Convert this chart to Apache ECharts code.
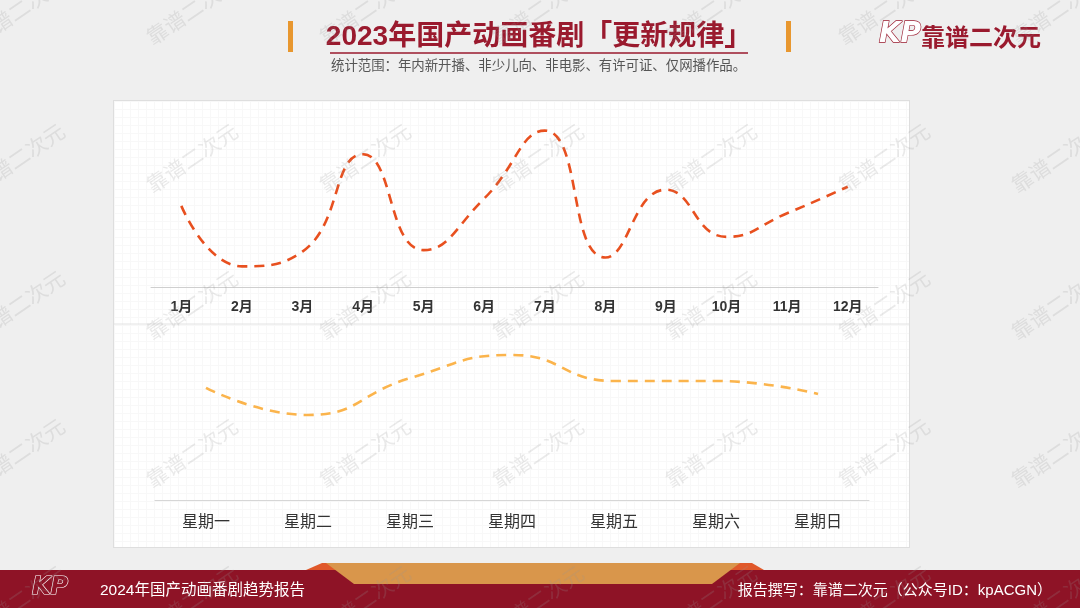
<!DOCTYPE html>
<html><head><meta charset="utf-8">
<script src="https://cdn.jsdelivr.net/npm/echarts@6/dist/echarts.min.js"></script>
<style>
html,body{margin:0;padding:0;background:#efefef;}
#wrap{position:relative;width:1080px;height:608px;overflow:hidden;background:#efefef;}
#panel{position:absolute;left:113px;top:100px;width:795px;height:446px;border:1px solid #dedede;background-color:#fff;
background-image:linear-gradient(#f8f8f8 1px,transparent 1px),linear-gradient(90deg,#f8f8f8 1px,transparent 1px);background-size:8px 8px;}
#chart{position:absolute;left:0;top:0;width:1080px;height:608px;}
</style></head>
<body><div id="wrap"><div id="panel"></div><div id="chart"></div></div>
<script>
const months = ['1月','2月','3月','4月','5月','6月','7月','8月','9月','10月','11月','12月'];
const monthValues = [27.5, 7, 12, 45, 12.5, 30, 53, 10, 33, 17, 25, 34];
const weekdays = ['星期一','星期二','星期三','星期四','星期五','星期六','星期日'];
const weekdayValues = [19.8, 15, 21.5, 25.6, 21, 21, 18.7];

const titleText = '2023年国产动画番剧「更新规律」';
const subtitleText = '统计范围：年内新开播、非少儿向、非电影、有许可证、仅网播作品。';
const brandText = '靠谱二次元';
const footerLeft = '2024年国产动画番剧趋势报告';
const footerRight = '报告撰写：靠谱二次元（公众号ID：kpACGN）';

const FONT = '"Liberation Sans","Noto Sans CJK SC",sans-serif';
const CJK = '"Noto Sans CJK SC","Noto Sans",sans-serif';
const RED = '#9a1a2e';

const chart = echarts.init(document.getElementById('chart'), null, {renderer:'canvas'});

const graphics = [];
// title bars
graphics.push({type:'rect', shape:{x:288,y:21,width:5,height:31}, style:{fill:'#e8972f'}});
graphics.push({type:'rect', shape:{x:786,y:21,width:5,height:31}, style:{fill:'#e8972f'}});
graphics.push({type:'text', x:539, y:37, style:{text:titleText, font:'bold 28px '+FONT, fill:RED, align:'center', verticalAlign:'middle'}});
graphics.push({type:'line', shape:{x1:330,y1:53,x2:748,y2:53}, style:{stroke:RED, lineWidth:1.6}});
graphics.push({type:'text', x:331, y:65, style:{text:subtitleText, font:'13.4px '+CJK, fill:'#555', align:'left', verticalAlign:'middle'}});
// top-right brand
graphics.push({type:'text', x:900, y:35, style:{text:'KP', font:'italic bold 28px "DejaVu Sans",sans-serif', fill:'#fff', stroke:RED, lineWidth:1.3, align:'center', verticalAlign:'middle'}});
graphics.push({type:'text', x:921, y:37, style:{text:brandText, font:'bold 24px '+CJK, fill:RED, align:'left', verticalAlign:'middle'}});
// divider in panel
graphics.push({type:'line', shape:{x1:114,y1:324,x2:909,y2:324}, style:{stroke:'#e2e2e2', lineWidth:1}});
// footer
graphics.push({type:'rect', shape:{x:0,y:570,width:1080,height:38}, style:{fill:'#8e1326'}});
graphics.push({type:'polygon', shape:{points:[[306,570],[322,563],[752,563],[764,570]]}, style:{fill:'#e0582a'}});
graphics.push({type:'polygon', shape:{points:[[326,563],[740,563],[712,584],[354,584]]}, style:{fill:'#d9964b'}});
graphics.push({type:'text', x:50, y:588, style:{text:'KP', font:'italic bold 24px "DejaVu Sans",sans-serif', fill:'#8e1326', stroke:'#fff', lineWidth:1.2, align:'center', verticalAlign:'middle'}});
graphics.push({type:'text', x:100, y:591, style:{text:footerLeft, font:'15.5px '+FONT, fill:'#fff', align:'left', verticalAlign:'middle'}});
graphics.push({type:'text', x:1052, y:591, style:{text:footerRight, font:'15px '+FONT, fill:'#fff', align:'right', verticalAlign:'middle'}});
// watermarks
const wmX = [19,192,365,538,711,884,1057];
const wmY = [10,158,305,453,600];
wmY.forEach(function(yy){ wmX.forEach(function(xx){
  graphics.push({type:'text', x:xx, y:yy, rotation:Math.PI*0.19, z:100,
    style:{text:brandText, font:'21px '+CJK, fill:'rgba(150,150,150,0.2)', align:'center', verticalAlign:'middle'}});
});});

const option = {
  backgroundColor:'transparent',
  animation:false,
  graphic:{elements:graphics},
  grid:[
    {left:151, width:727, top:110, height:177},
    {left:155, width:714, top:330, height:170}
  ],
  xAxis:[
    {gridIndex:0, type:'category', data:months, boundaryGap:true,
     axisLine:{lineStyle:{color:'#cfcfcf'}}, axisTick:{show:false},
     axisLabel:{color:'#333', fontSize:14, fontWeight:'bold', fontFamily:FONT, margin:13}},
    {gridIndex:1, type:'category', data:weekdays, boundaryGap:true,
     axisLine:{lineStyle:{color:'#d6d6d6'}}, axisTick:{show:false},
     axisLabel:{color:'#333', fontSize:16, fontFamily:CJK, margin:13}}
  ],
  yAxis:[
    {gridIndex:0, type:'value', min:0, max:60, show:false, splitLine:{show:false}},
    {gridIndex:1, type:'value', min:0, max:30, show:false, splitLine:{show:false}}
  ],
  series:[
    {type:'line', xAxisIndex:0, yAxisIndex:0, data:monthValues, smooth:0.5, showSymbol:false,
     lineStyle:{color:'#e8501f', width:2.6, type:[10,7]}},
    {type:'line', xAxisIndex:1, yAxisIndex:1, data:weekdayValues, smooth:0.5, showSymbol:false,
     lineStyle:{color:'#fbb44c', width:2.6, type:[10,7]}}
  ]
};
chart.setOption(option);
</script></body></html>
